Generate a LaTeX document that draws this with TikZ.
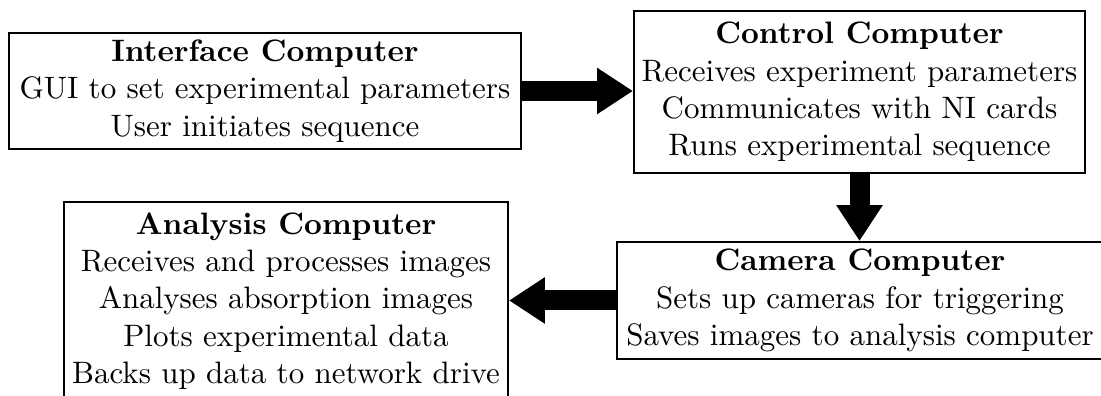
\documentclass[tikz,border=0pt]{standalone}
\usetikzlibrary{arrows.meta}
\begin{document}
\begin{tikzpicture}[x=0.3226pt,y=-0.3226pt,
  box/.style={draw, line width=0.65pt, align=center, inner sep=0pt,
    font=\fontsize{10}{12}\selectfont},
  bigarrow/.style={line width=6.45pt, -{Triangle[length=11.6pt,width=14.2pt]}}]
\useasboundingbox (0,0) rectangle (1101,396);
\clip (0,0) rectangle (1101,396);
\node[box, minimum width=165.2pt, minimum height=37.4pt] (I) at (265,91)
  {\textbf{Interface Computer}\\GUI to set experimental parameters\\User initiates sequence};
\node[box, minimum width=145.5pt, minimum height=52.3pt] (C) at (859.5,92)
  {\textbf{Control Computer}\\Receives experiment parameters\\Communicates with NI cards\\Runs experimental sequence};
\node[box, minimum width=156.8pt, minimum height=37.7pt] (K) at (860,300.5)
  {\textbf{Camera Computer}\\Sets up cameras for triggering\\Saves images to analysis computer};
\node[box, minimum width=143.2pt, minimum height=63.9pt] (A) at (286,301)
  {\textbf{Analysis Computer}\\Receives and processes images\\Analyses absorption images\\Plots experimental data\\Backs up data to network drive};
\draw[bigarrow] (I.east) -- (I.east -| C.west);
\draw[bigarrow] (C.south) -- (C.south |- K.north);
\draw[bigarrow] (K.west) -- (K.west -| A.east);
\end{tikzpicture}
\end{document}
